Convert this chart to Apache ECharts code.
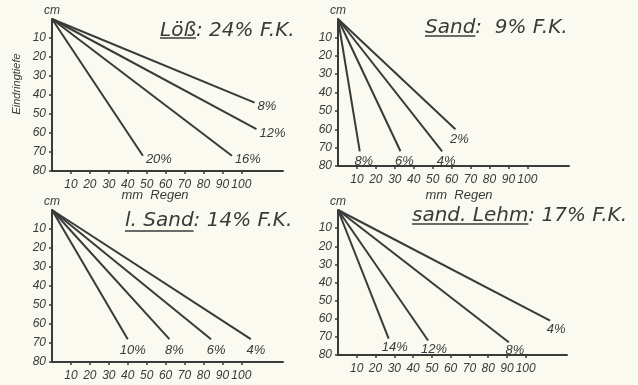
<!DOCTYPE html>
<html>
<head>
<meta charset="utf-8">
<script src="https://cdn.jsdelivr.net/npm/echarts@6/dist/echarts.min.js"></script>
<style>
html,body{margin:0;padding:0;background:#fbfaf1;}
#c{width:638px;height:385px;}
</style>
</head>
<body>
<div id="c"></div>
<script>
// ---- data ----
const xTicks = [10, 20, 30, 40, 50, 60, 70, 80, 90, 100];
const yTicks = [10, 20, 30, 40, 50, 60, 70, 80];

const titles = [
  ['Löß', ': 24% F.K.'],
  ['Sand', ':  9% F.K.'],
  ['l. Sand', ': 14% F.K.'],
  ['sand. Lehm', ': 17% F.K.']
];

// Löß: 24% F.K.
const lossLabels = ['8%', '12%', '16%', '20%'];
const lossRain   = [107, 108, 95, 48];
const lossDepth  = [44, 58, 72, 72];

// Sand: 9% F.K.
const sandLabels = ['2%', '4%', '6%', '8%'];
const sandRain   = [62, 55, 33, 11.5];
const sandDepth  = [60, 72, 72, 72];

// l. Sand: 14% F.K.
const lsandLabels = ['4%', '6%', '8%', '10%'];
const lsandRain   = [105, 84, 62, 40];
const lsandDepth  = [68, 68, 68, 68];

// sand. Lehm: 17% F.K.
const lehmLabels = ['4%', '8%', '12%', '14%'];
const lehmRain   = [113, 91, 48, 27];
const lehmDepth  = [61, 73, 72, 71];

const panels = [
  {labels: lossLabels, rain: lossRain, depth: lossDepth},
  {labels: sandLabels, rain: sandRain, depth: sandDepth},
  {labels: lsandLabels, rain: lsandRain, depth: lsandDepth},
  {labels: lehmLabels, rain: lehmRain, depth: lehmDepth}
];

// ---- layout / style ----
const FONT = 'Liberation Sans';
const TFONT = 'DejaVu Sans';
const INK = '#3a3a3a';
const grids = [
  {left: 52, top: 19, width: 231, height: 152},
  {left: 338, top: 19, width: 231, height: 147},
  {left: 52, top: 210, width: 231, height: 152},
  {left: 338, top: 210, width: 229, height: 145}
];
const labelPlace = [
  {position: 'right', distance: 3, offset: [0, 4]},
  {position: 'bottom', distance: 4, offset: [4, 0]},
  {position: 'bottom', distance: 5, offset: [5, 0]},
  {position: 'bottom', distance: 2, offset: [6, 0]}
];

const xAxes = [], yAxes = [], series = [];
grids.forEach((g, i) => {
  xAxes.push({
    type: 'value', gridIndex: i, min: 0, max: 122,
    position: 'bottom',
    splitLine: {show: false},
    axisLine: {show: true, onZero: false, lineStyle: {color: INK, width: 2}},
    axisTick: {show: true, customValues: xTicks, length: 3, lineStyle: {color: INK, width: 1.5}},
    axisLabel: {customValues: xTicks, color: INK, fontFamily: FONT, fontStyle: 'italic', fontSize: 12, margin: 8}
  });
  yAxes.push({
    type: 'value', gridIndex: i, min: 0, max: 80, interval: 10, inverse: true,
    name: 'cm', nameLocation: 'start', nameGap: 2,
    nameTextStyle: {color: INK, fontFamily: FONT, fontStyle: 'italic', fontSize: 12, align: 'center'},
    splitLine: {show: false},
    axisLine: {show: true, onZero: false, lineStyle: {color: INK, width: 2}},
    axisTick: {show: true, customValues: yTicks, length: 3, lineStyle: {color: INK, width: 1.5}},
    axisLabel: {customValues: yTicks, color: INK, fontFamily: FONT, fontStyle: 'italic', fontSize: 12, margin: 6}
  });
  const p = panels[i];
  p.labels.forEach((lab, k) => {
    series.push({
      type: 'line', xAxisIndex: i, yAxisIndex: i,
      symbol: 'circle', symbolSize: 0, silent: true,
      lineStyle: {color: INK, width: 2},
      itemStyle: {color: INK},
      data: [
        {value: [0, 0], label: {show: false}},
        {value: [p.rain[k], p.depth[k]], label: Object.assign({
          show: true, formatter: lab, color: INK, fontFamily: FONT,
          fontStyle: 'italic', fontSize: 13
        }, labelPlace[i])}
      ]
    });
  });
});

// titles with underlined first word; [left, vertical middle of caps, underline y]
const titlePos = [[160, 30.5, 38], [425, 27.5, 36], [125, 221, 231], [412, 216, 224]];
const TSIZE = 20;
const tfont = 'oblique ' + TSIZE + 'px "' + TFONT + '"';
const ctx = document.createElement('canvas').getContext('2d');
ctx.font = tfont;
const graphics = [];
titles.forEach((t, i) => {
  const [x, y, uy] = titlePos[i];
  const w = ctx.measureText(t[0]).width;
  graphics.push({type: 'text', x: x, y: y,
    style: {text: t[0], fill: INK, font: tfont, verticalAlign: 'middle'}});
  graphics.push({type: 'text', x: x + w, y: y,
    style: {text: t[1], fill: INK, font: tfont, verticalAlign: 'middle'}});
  graphics.push({type: 'line', shape: {x1: x, y1: uy, x2: x + w, y2: uy},
    style: {stroke: INK, lineWidth: 1.4}});
});
// axis captions
[[155, 195], [459, 195]].forEach(([x, y]) => {
  graphics.push({type: 'text', x: x, y: y,
    style: {text: 'mm  Regen', fill: INK, font: 'italic 13px "' + FONT + '"', align: 'center', verticalAlign: 'middle'}});
});
graphics.push({type: 'text', x: 17, y: 84, rotation: Math.PI / 2,
  style: {text: 'Eindringtiefe', fill: INK, font: 'italic 11px "' + FONT + '"', align: 'center', verticalAlign: 'middle'}});

const chart = echarts.init(document.getElementById('c'));
chart.setOption({
  backgroundColor: '#fbfaf1',
  animation: false,
  grid: grids,
  xAxis: xAxes,
  yAxis: yAxes,
  series: series,
  graphic: graphics
});
</script>
</body>
</html>
